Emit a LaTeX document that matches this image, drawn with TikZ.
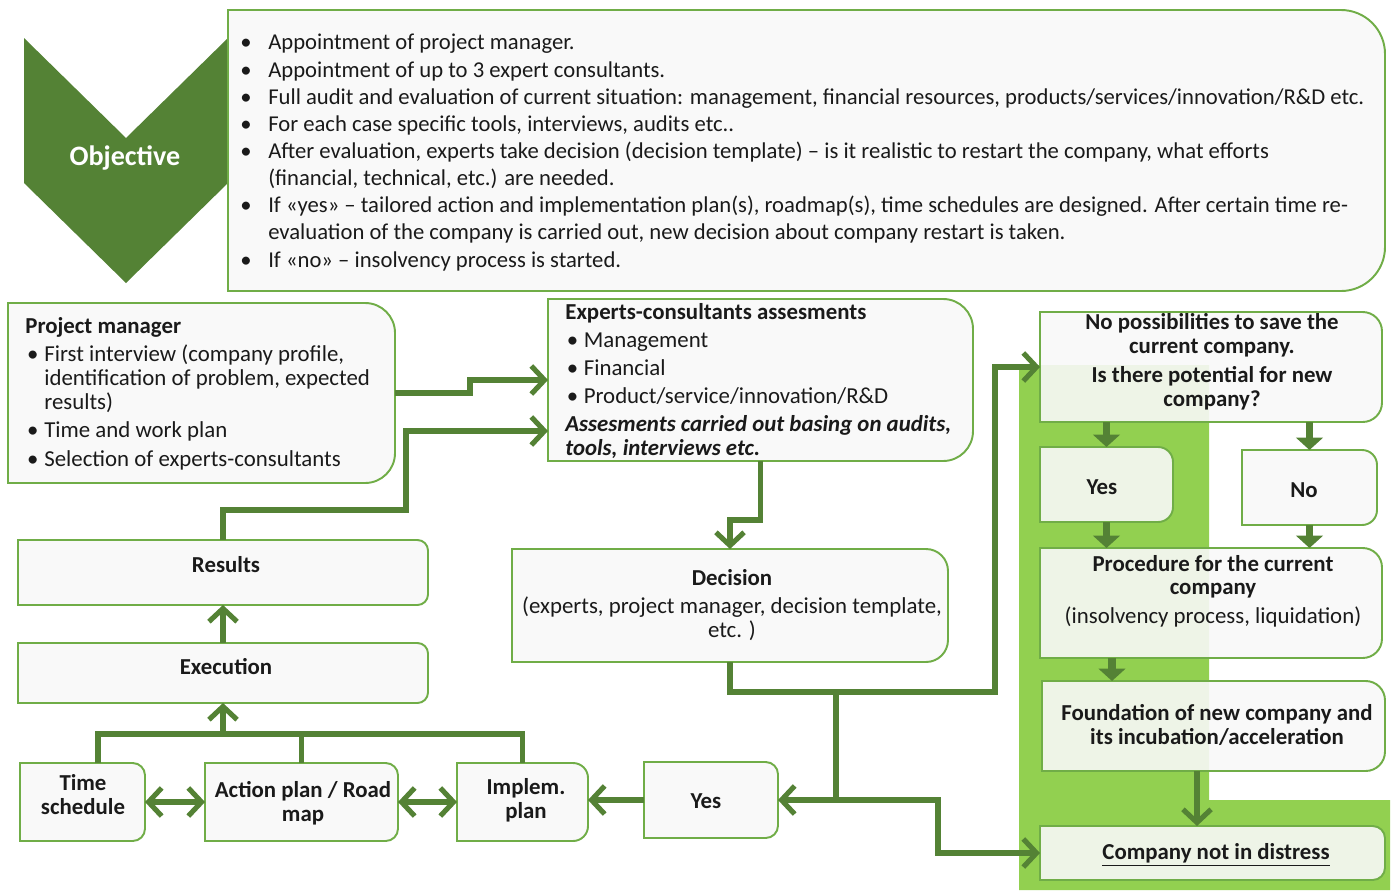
\documentclass[tikz,border=0pt]{standalone}
\usepackage{fontspec}
\setmainfont{Carlito}
\usetikzlibrary{arrows.meta,fit,calc}
\definecolor{dgreen}{HTML}{548235}
\definecolor{bgreen}{HTML}{92D050}
\definecolor{bline}{HTML}{70AD47}
\definecolor{bfill}{HTML}{F8F8F8}
\definecolor{txt}{HTML}{1A1A1A}
\pgfdeclarelayer{back}\pgfdeclarelayer{mid}\pgfsetlayers{back,mid,main}
\newcommand{\rbox}[2]{\draw[boxst] (#1.north west) -- (#1.north) {[rounded corners=#2] -- (#1.north east) -- (#1.south east) -- (#1.south)} -- (#1.south west) -- cycle;}
\newcommand{\obl}{\makebox[15.9pt][l]{\textbullet}}
\newcommand{\ocont}{\hspace*{15.9pt}}
\newcommand{\pbl}{\makebox[10.8pt][l]{\hspace*{1pt}\textbullet}}
\newcommand{\pcont}{\hspace*{10.8pt}}
\newcommand{\ebl}{\makebox[10.5pt][l]{\hspace*{0.8pt}\textbullet}}
\tikzset{
  frame/.style={inner sep=0pt, outer sep=0pt},
  boxst/.style={draw=bline, line width=1.1pt, fill=bfill, fill opacity=0.9},
  tx/.style={inner sep=0pt, text=txt, font=\fontsize{13}{13.6}\selectfont},
  btx/.style={tx, font=\fontsize{13}{13.6}\selectfont\bfseries, align=center},
  conn/.style={draw=dgreen, line width=2.9pt, line join=miter, -{Straight Barb[length=7.5pt,width=16pt]}},
  dconn/.style={draw=dgreen, line width=2.9pt, {Straight Barb[length=7.5pt,width=16pt]}-{Straight Barb[length=7.5pt,width=16pt]}},
  plain/.style={draw=dgreen, line width=2.9pt, line join=miter},
  sarr/.style={draw=dgreen, line width=4pt, -{Triangle[length=7pt,width=15pt]}},
}
\begin{document}
\begin{tikzpicture}[x=0.02cm, y=-0.02cm]
\useasboundingbox (0,0) rectangle (1394,890);
% green background
\begin{pgfonlayer}{back}
\fill[bgreen] (1019,365) -- (1209,365) -- (1209,800) -- (1390,800) -- (1390,890) -- (1019,890) -- cycle;
\end{pgfonlayer}
% box frames
\node[frame, fit={(228,10) (1385,291)}] (obj) {};
\node[frame, fit={(8,303) (395,483)}] (pm) {};
\node[frame, fit={(548,299) (973,461)}] (exp) {};
\node[frame, fit={(512,549) (948,662)}] (dec) {};
\node[frame, fit={(18,540) (428,605)}] (res) {};
\node[frame, fit={(18,643) (428,703)}] (exe) {};
\node[frame, fit={(20,763) (145,841)}] (ts) {};
\node[frame, fit={(205,763) (398,841)}] (ap) {};
\node[frame, fit={(457,763) (588,841)}] (ip) {};
\node[frame, fit={(644,762) (778,838)}] (yes1) {};
\node[frame, fit={(1040,312) (1382,422)}] (nop) {};
\node[frame, fit={(1040,447) (1173,522)}] (yes2) {};
\node[frame, fit={(1242,450) (1377,525)}] (no2) {};
\node[frame, fit={(1040,548) (1382,658)}] (proc) {};
\node[frame, fit={(1042,681) (1385,771)}] (found) {};
\node[frame, fit={(1040,826) (1385,880)}] (cnd) {};
\begin{pgfonlayer}{mid}
\fill[dgreen] (24,38) -- (126,138) -- (228,38) -- (228,183) -- (126,283) -- (24,183) -- cycle;
\rbox{obj}{25pt}
\rbox{pm}{17pt}
\rbox{exp}{17pt}
\rbox{dec}{12.5pt}
\rbox{res}{6pt}
\rbox{exe}{6pt}
\rbox{ts}{7pt}
\rbox{ap}{7pt}
\rbox{ip}{8.5pt}
\rbox{yes1}{7pt}
\rbox{nop}{11pt}
\rbox{yes2}{8.5pt}
\rbox{no2}{8.5pt}
\rbox{proc}{11pt}
\rbox{found}{11pt}
\rbox{cnd}{7pt}
\end{pgfonlayer}
% texts
\node[inner sep=0pt, text=white, font=\fontsize{16}{18}\selectfont\bfseries] (chevt) at (125,158) {Objective};
\node[tx, anchor=north west, align=left, font=\fontsize{12.9}{15.45}\selectfont] (objt) at (240,34) {%
\obl Appointment of project manager.\\
\obl Appointment of up to 3 expert consultants.\\
\obl Full audit and evaluation of current situation: management, financial resources, products/services/innovation/R\&D etc.\\
\obl For each case specific tools, interviews, audits etc..\\
\obl After evaluation, experts take decision (decision template) – is it realistic to restart the company, what efforts\\
\ocont(financial, technical, etc.) are needed.\\
\obl If «yes» – tailored action and implementation plan(s), roadmap(s), time schedules are designed. After certain time re-\\
\ocont evaluation of the company is carried out, new decision about company restart is taken.\\
\obl If «no» – insolvency process is started.};
\node[tx, anchor=north west, align=left] (pmt) at (25,317) {%
\textbf{Project manager}\\[2.3pt]
\pbl First interview (company profile,\\
\pcont identification of problem, expected\\
\pcont results)\\[2.8pt]
\pbl Time and work plan\\[2.8pt]
\pbl Selection of experts-consultants};
\node[tx, anchor=north west, align=left] (expt) at (565,303) {%
\textbf{Experts-consultants assesments}\\[2.3pt]
\ebl Management\\[2.3pt]
\ebl Financial\\[2.3pt]
\ebl Product/service/innovation/R\&D\\[2.3pt]
\textbf{\textit{Assesments carried out basing on audits,}}\\
\textbf{\textit{tools, interviews etc.}}};
\node[tx, align=center] (dect) at (732,605) {\textbf{Decision}\\[2.8pt](experts, project manager, decision template,\\etc. )};
\node[btx] (rest) at (226,565) {Results};
\node[btx] (exet) at (226,667) {Execution};
\node[btx] (tst) at (83,795) {Time\\schedule};
\node[btx] (apt) at (303,803) {Action plan / Road\\map};
\node[btx] (ipt) at (526,800) {Implem.\\plan};
\node[btx] (yes1t) at (706,801) {Yes};
\node[btx] (nopt) at (1212,362) {No possibilities to save the\\current company.\\[3pt]Is there potential for new\\company?};
\node[btx] (yes2t) at (1102,487) {Yes};
\node[btx] (no2t) at (1304,490) {No};
\node[tx, align=center] (proct) at (1213,591) {\textbf{Procedure for the current}\\\textbf{company}\\[2.5pt](insolvency process, liquidation)};
\node[btx] (foundt) at (1217,725) {Foundation of new company and\\its incubation/acceleration};
\node[btx] (cndt) at (1216,855) {\underline{Company not in distress}};
% connectors
\draw[conn] (pm.east) -- ++(75,0) -- ++(0,-13) -- (exp.west);
\coordinate (b1) at (406,510);
\draw[conn] (res.north) |- (b1) |- ($(exp.west)+(0,51)$);
\draw[conn] (exp.south) -- ++(0,59) -| (dec.north);
\draw[conn] (dec.south) -- ++(0,30) -| ($(nop.west)+(-45,0)$) -- (nop.west);
\coordinate (j1) at (836,692);
\draw[conn] (j1) |- (yes1.east);
\draw[conn] (j1 |- yes1.east) -| ($(cnd.west)+(-102,0)$) -- (cnd.west);
\draw[conn] (yes1.west) -- (yes1.west -| ip.east);
\draw[dconn] (ts.east) -- (ts.east -| ap.west);
\draw[dconn] (ap.east) -- (ap.east -| ip.west);
\coordinate (tb) at (98,734);
\draw[plain] (tb |- ts.north) -- (tb) -| (ip.north);
\draw[plain] (ap.north) -- (ap.north |- tb);
\draw[conn] (exe.south |- tb) -- (exe.south);
\draw[conn] (exe.north) -- (res.south);
\draw[sarr] (nop.south -| yes2.north) -- (yes2.north);
\draw[sarr] (nop.south -| no2.north) -- (no2.north);
\draw[sarr] (yes2.south) -- (yes2.south |- proc.north);
\draw[sarr] (no2.south) -- (no2.south |- proc.north);
\draw[sarr] ($(proc.south west)+(72,0)$) -- ($(found.north west)+(70,0)$);
\draw[conn] ($(found.south west)+(155,0)$) -- ($(cnd.north west)+(157,0)$);
\end{tikzpicture}
\end{document}
